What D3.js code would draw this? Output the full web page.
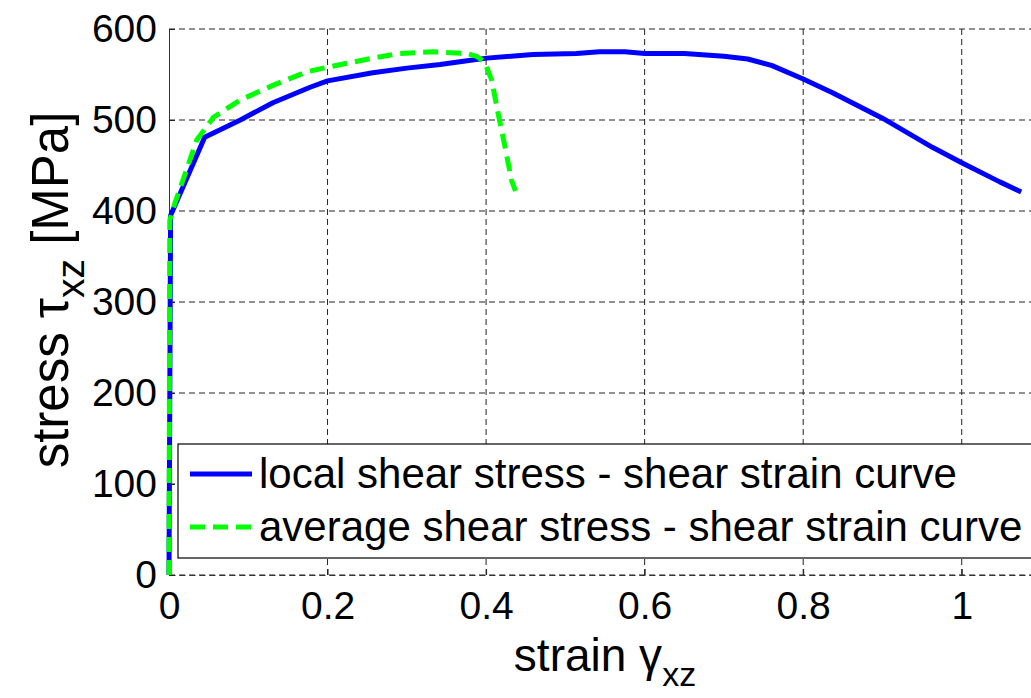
<!DOCTYPE html>
<html>
<head>
<meta charset="utf-8">
<script src="https://cdn.jsdelivr.net/npm/d3@7"></script>
<style>
body { margin: 0; background: #fff; }
svg { display: block; overflow: hidden; }
text { font-family: "Liberation Sans", Arial, Helvetica, sans-serif; fill: #000; }
</style>
</head>
<body>
<div id="chart"></div>
<script>
// local shear stress - shear strain curve
var localStrain = [0, 0.002, 0.045, 0.09, 0.131, 0.178, 0.2, 0.257, 0.3, 0.342, 0.376, 0.401, 0.459, 0.514, 0.543, 0.575, 0.6, 0.65, 0.7, 0.73, 0.76, 0.8, 0.837, 0.9, 0.963, 1.0, 1.048, 1.075];
var localStress = [0, 395, 481, 500, 519, 536, 543, 552, 557, 561, 565, 568, 572, 573, 575, 575, 573, 573, 570, 567, 560, 545, 530, 502, 470, 453, 432, 421];
// average shear stress - shear strain curve
var avgStrain = [0, 0.001, 0.0076, 0.022, 0.035, 0.056, 0.09, 0.131, 0.174, 0.2, 0.257, 0.291, 0.333, 0.376, 0.388, 0.398, 0.407, 0.415, 0.424, 0.432, 0.437];
var avgStress = [0, 390, 409, 445, 478, 503, 522, 538, 553, 558, 568, 573, 575, 573, 570, 564, 544, 508, 470, 434, 422];

var xTicks = [0, 0.2, 0.4, 0.6, 0.8, 1];
var yTicks = [0, 100, 200, 300, 400, 500, 600];
var legendLabels = ["local shear stress - shear strain curve", "average shear stress - shear strain curve"];
var seriesColors = ["#0000ff", "#00ff00"];

var W = 1031, H = 698;
var margin = {top: 29, left: 169};
var plotH = 546;
var plotW = 872; // axis box runs past the right edge of the picture

var svg = d3.select("#chart").append("svg")
    .attr("width", W)
    .attr("height", H);

var x = d3.scaleLinear().domain([0, 1.1]).range([0, plotW]);
var y = d3.scaleLinear().domain([0, 600]).range([plotH, 0]);

var g = svg.append("g")
    .attr("transform", "translate(" + margin.left + "," + margin.top + ")");

// grid
g.append("g")
    .attr("class", "grid")
    .selectAll("line.gx")
    .data(xTicks.filter(function (d) { return d > 0; }))
    .enter().append("line")
    .attr("x1", function (d) { return x(d); })
    .attr("x2", function (d) { return x(d); })
    .attr("y1", 0).attr("y2", plotH)
    .attr("stroke", "#222").attr("stroke-width", 1)
    .attr("stroke-dasharray", "6,4");

g.select(".grid")
    .selectAll("line.gy")
    .data(yTicks)
    .enter().append("line")
    .attr("x1", 0).attr("x2", plotW)
    .attr("y1", function (d) { return y(d); })
    .attr("y2", function (d) { return y(d); })
    .attr("stroke", "#222").attr("stroke-width", 1)
    .attr("stroke-dasharray", "6,4");

// axes
var xAxis = g.append("g")
    .attr("transform", "translate(0," + plotH + ")")
    .call(d3.axisBottom(x).tickValues(xTicks).tickFormat(d3.format("~g"))
        .tickSizeInner(-6).tickSizeOuter(0).tickPadding(16));
var yAxis = g.append("g")
    .call(d3.axisLeft(y).tickValues(yTicks).tickFormat(d3.format("d"))
        .tickSizeInner(-6).tickSizeOuter(0).tickPadding(12));

[xAxis, yAxis].forEach(function (a) {
    a.select(".domain").attr("stroke", "#333").attr("stroke-width", 1);
    a.selectAll(".tick line").attr("stroke", "#222");
    a.selectAll(".tick text").style("font-size", "39px").attr("fill", "#000");
});
xAxis.select(".domain").attr("stroke-dasharray", "6,4");

// curves
var line = d3.line()
    .x(function (d) { return x(d[0]); })
    .y(function (d) { return y(d[1]); });

var localPts = localStrain.map(function (v, i) { return [v, localStress[i]]; });
var avgPts = avgStrain.map(function (v, i) { return [v, avgStress[i]]; });

g.append("path")
    .datum(localPts)
    .attr("d", line)
    .attr("fill", "none")
    .attr("stroke", seriesColors[0])
    .attr("stroke-width", 5)
    .attr("stroke-linejoin", "round");

g.append("path")
    .datum(avgPts)
    .attr("d", line)
    .attr("fill", "none")
    .attr("stroke", seriesColors[1])
    .attr("stroke-width", 5)
    .attr("stroke-dasharray", "15,8");

// legend
var leg = svg.append("g").attr("transform", "translate(178,444)");
leg.append("rect")
    .attr("x", 0).attr("y", 0)
    .attr("width", 900).attr("height", 114)
    .attr("fill", "#fff").attr("stroke", "#000").attr("stroke-width", 1.2);

legendLabels.forEach(function (lab, i) {
    var cy = 30 + i * 53;
    leg.append("line")
        .attr("x1", 12).attr("x2", 74)
        .attr("y1", cy).attr("y2", cy)
        .attr("stroke", seriesColors[i])
        .attr("stroke-width", 5)
        .attr("stroke-dasharray", i === 1 ? "15,8" : null);
    leg.append("text")
        .attr("x", 81).attr("y", cy + 14)
        .style("font-size", "42px")
        .text(lab);
});

// axis titles
var xl = svg.append("text")
    .attr("x", 605).attr("y", 671)
    .attr("text-anchor", "middle")
    .style("font-size", "46px");
xl.append("tspan").text("strain \u03b3");
xl.append("tspan").attr("dy", 15).style("font-size", "34px").text("xz");

var yl = svg.append("text")
    .attr("transform", "translate(68,290) rotate(-90)")
    .attr("text-anchor", "middle")
    .style("font-size", "51px");
yl.append("tspan").text("stress \u03c4");
yl.append("tspan").attr("dy", 16).style("font-size", "39px").text("xz");
yl.append("tspan").attr("dy", -16).text(" [MPa]");
</script>
</body>
</html>
